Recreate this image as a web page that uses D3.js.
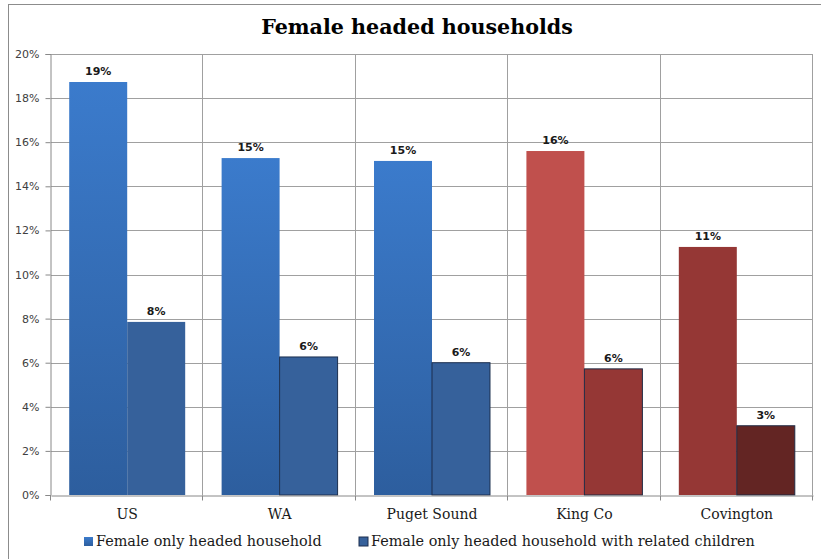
<!DOCTYPE html>
<html>
<head>
<meta charset="utf-8">
<script src="https://cdn.jsdelivr.net/npm/d3@7/dist/d3.min.js"></script>
<style>
  html, body { margin: 0; padding: 0; background: #fff; }
  svg { display: block; }
</style>
</head>
<body>
<svg id="chart" width="821" height="559"></svg>
<script>
// Share of households headed by a woman alone, by area
const categories = ["US", "WA", "Puget Sound", "King Co", "Covington"];
const series = ["Female only headed household", "Female only headed household with related children"];
const femaleHeaded = [0.1873, 0.1528, 0.1515, 0.1560, 0.1125];
const femaleHeadedWithChildren = [0.0785, 0.0626, 0.0600, 0.0572, 0.0314];
const yTicks = [0, 0.02, 0.04, 0.06, 0.08, 0.10, 0.12, 0.14, 0.16, 0.18, 0.20];

// Fill per area: [first series, second series]; the local areas are shown in reds
const palette = {
  "US":          ["url(#blueGrad)", "#36619b"],
  "WA":          ["url(#blueGrad)", "#36619b"],
  "Puget Sound": ["url(#blueGrad)", "#36619b"],
  "King Co":     ["#c0504d", "#953735"],
  "Covington":   ["#953735", "#632523"]
};
const strokes = {
  "US":          [null, null],
  "WA":          [null, "#1c2f4f"],
  "Puget Sound": [null, "#1c2f4f"],
  "King Co":     [null, "#1f2a44"],
  "Covington":   [null, "#1f2a44"]
};

const rows = categories.map((c, i) => ({
  category: c,
  values: [femaleHeaded[i], femaleHeadedWithChildren[i]]
}));

const svg = d3.select("#chart");
const plot = { left: 51, right: 813, top: 54, bottom: 495 };

const defs = svg.append("defs");
const grad = defs.append("linearGradient")
  .attr("id", "blueGrad").attr("x1", 0).attr("y1", 0).attr("x2", 0).attr("y2", 1);
grad.append("stop").attr("offset", "0%").attr("stop-color", "#3b7bcc");
grad.append("stop").attr("offset", "100%").attr("stop-color", "#2d5e9e");

// Outer chart frame
svg.append("rect")
  .attr("x", 8.5).attr("y", 4.5).attr("width", 840).attr("height", 600)
  .attr("fill", "none").attr("stroke", "#8c8c8c").attr("stroke-width", 1);

const x = d3.scaleBand().domain(categories).range([plot.left, plot.right]).padding(0);
const xInner = d3.scaleBand().domain(series).range([0, x.bandwidth()])
  .paddingInner(0).paddingOuter(0.314);
const y = d3.scaleLinear().domain([0, 0.2]).range([plot.bottom, plot.top]);

// Horizontal gridlines
svg.append("g").selectAll("line")
  .data(yTicks.filter(t => t > 0))
  .join("line")
  .attr("x1", plot.left).attr("x2", plot.right)
  .attr("y1", d => Math.round(y(d)) + 0.5).attr("y2", d => Math.round(y(d)) + 0.5)
  .attr("stroke", "#a0a0a0").attr("stroke-width", 1);

// Vertical gridlines at category boundaries and plot edge
const boundaries = categories.slice(1).map(c => x(c)).concat([plot.right]);
svg.append("g").selectAll("line")
  .data(boundaries)
  .join("line")
  .attr("x1", d => Math.round(d) - 0.5).attr("x2", d => Math.round(d) - 0.5)
  .attr("y1", plot.top).attr("y2", plot.bottom)
  .attr("stroke", "#a0a0a0").attr("stroke-width", 1);

// Bars
const groups = svg.append("g").selectAll("g")
  .data(rows)
  .join("g")
  .attr("transform", d => `translate(${x(d.category)},0)`);

groups.selectAll("rect")
  .data(d => d.values.map((v, j) => ({ category: d.category, series: series[j], j, value: v })))
  .join("rect")
  .attr("x", d => xInner(d.series))
  .attr("y", d => y(d.value))
  .attr("width", xInner.bandwidth())
  .attr("height", d => y(0) - y(d.value))
  .attr("fill", d => palette[d.category][d.j])
  .attr("stroke", d => strokes[d.category][d.j] || "none")
  .attr("stroke-width", 1);

// Value labels above bars
groups.selectAll("text")
  .data(d => d.values.map((v, j) => ({ series: series[j], value: v })))
  .join("text")
  .attr("x", d => xInner(d.series) + xInner.bandwidth() / 2)
  .attr("y", d => y(d.value) - 7)
  .attr("text-anchor", "middle")
  .attr("font-family", "DejaVu Sans, sans-serif")
  .attr("font-weight", "bold")
  .attr("font-size", 11)
  .attr("fill", "#1a1a1a")
  .text(d => d3.format(".0%")(d.value));

// Y axis
const yAxis = svg.append("g")
  .attr("transform", `translate(${plot.left - 0.5},0)`)
  .call(d3.axisLeft(y).tickValues(yTicks).tickFormat(d3.format(".0%")).tickSize(5).tickPadding(6));
yAxis.select(".domain").attr("stroke", "#888");
yAxis.selectAll(".tick line").attr("stroke", "#888");
yAxis.selectAll(".tick text")
  .attr("font-family", "DejaVu Sans, sans-serif")
  .attr("font-size", 11)
  .attr("fill", "#404040");

// X axis
const xAxis = svg.append("g")
  .attr("transform", `translate(0,${plot.bottom + 0.5})`)
  .call(d3.axisBottom(x).tickSize(0).tickPadding(14));
xAxis.select(".domain").attr("stroke", "#888");
xAxis.selectAll(".tick text")
  .attr("font-family", "DejaVu Serif, serif")
  .attr("font-size", 14)
  .attr("fill", "#1a1a1a");
xAxis.selectAll("line.bound")
  .data([plot.left].concat(boundaries))
  .join("line").attr("class", "bound")
  .attr("x1", d => Math.round(d) - 0.5).attr("x2", d => Math.round(d) - 0.5)
  .attr("y1", 0).attr("y2", 5)
  .attr("stroke", "#888");

// Title
const title = svg.append("text")
  .attr("x", 417).attr("y", 34)
  .attr("text-anchor", "middle")
  .attr("font-family", "DejaVu Serif, serif")
  .attr("font-weight", "bold")
  .attr("font-size", 20)
  .attr("fill", "#000")
  .text("Female headed households");
const tw = title.node().getComputedTextLength();
title.attr("font-size", 20 * 312 / tw);

// Legend
const legendItems = [
  { label: series[0], fill: "url(#blueGrad)", stroke: "none", x: 84 },
  { label: series[1], fill: "#36619b", stroke: "#1c2f4f", x: 359 }
];
const legend = svg.append("g").selectAll("g")
  .data(legendItems)
  .join("g")
  .attr("transform", d => `translate(${d.x},537)`);
legend.append("rect")
  .attr("width", 9).attr("height", 9)
  .attr("fill", d => d.fill).attr("stroke", d => d.stroke);
legend.append("text")
  .attr("x", 12).attr("y", 9)
  .attr("font-family", "DejaVu Serif, serif")
  .attr("font-size", 14.4)
  .attr("fill", "#1a1a1a")
  .text(d => d.label);
</script>
</body>
</html>
